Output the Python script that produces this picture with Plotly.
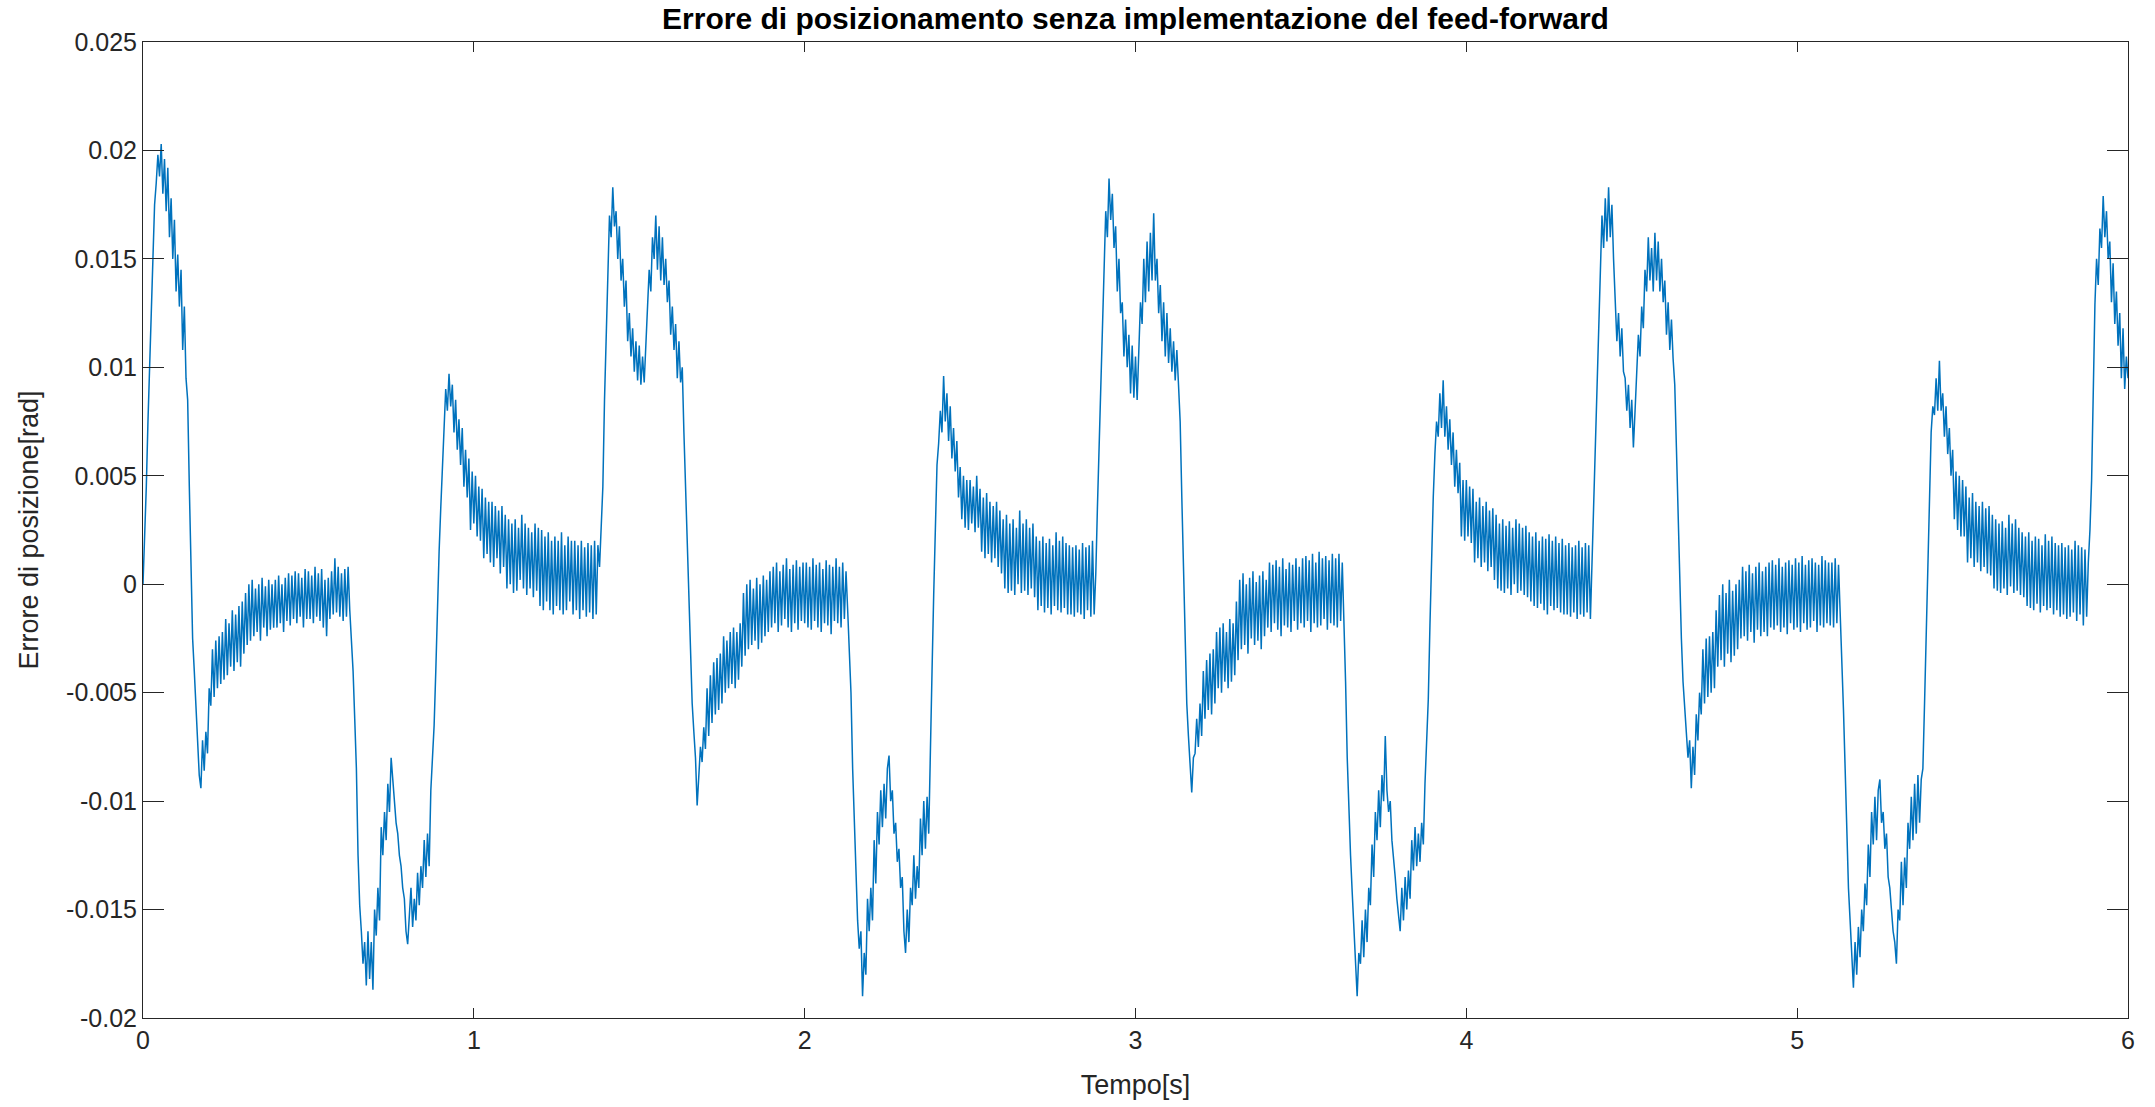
import numpy as np
import plotly.graph_objects as go

# position error, in units of 1e-4 rad
# one row = 0.1 s, sampled every 0.005 s
err_1e4 = [
    0, 20, 45, 75, 105, 125, 150, 175, 185, 198, 188, 203, 180, 196, 172, 192, 160, 178, 150, 168,
    135, 152, 128, 145, 108, 128, 95, 85, 45, 10, -25, -40, -55, -70, -88, -94, -72, -86, -68, -78,
    -48, -56, -30, -52, -26, -48, -24, -46, -22, -44, -16, -42, -18, -38, -12, -40, -14, -36, -10, -38,
    -8, -32, -4, -28, 0, -26, 2, -24, -2, -22, 0, -26, 3, -20, -1, -24, 2, -21, 0, -20,
    2, -20, 4, -18, 0, -22, 3, -17, 5, -19, 4, -16, 6, -18, 5, -15, 3, -20, 7, -16,
    6, -16, 4, -18, 8, -15, 5, -17, 7, -20, 2, -24, 3, -16, 6, -14, 12, -13, 8, -15,
    5, -17, 7, -15, 8, -12, -25, -40, -62, -85, -125, -148, -160, -175, -165, -185, -160, -182, -165, -187,
    -150, -162, -140, -155, -112, -125, -105, -118, -92, -105, -80, -90, -100, -110, -115, -125, -130, -140, -145, -160,
    -166, -150, -140, -158, -145, -155, -133, -148, -130, -140, -118, -135, -115, -130, -95, -80, -65, -40, -10, 15,
    35, 55, 75, 90, 80, 97, 82, 92, 70, 85, 62, 76, 55, 72, 45, 62, 40, 58, 25, 52,
    28, 50, 22, 45, 20, 44, 12, 40, 14, 38, 10, 38, 8, 36, 12, 34, 5, 36, 8, 32,
    -2, 30, 0, 28, -4, 30, -3, 26, 2, 32, -2, 28, -5, 26, -2, 24, -6, 28, -3, 26,
    -10, 25, -12, 22, -8, 24, -12, 20, -14, 22, -10, 20, -12, 24, -14, 18, -12, 22, -8, 20,
    -14, 20, -12, 18, -16, 20, -12, 17, -15, 19, -13, 18, -16, 20, -14, 18, 8, 25, 45, 85,
    118, 150, 170, 160, 183, 165, 172, 150, 165, 140, 150, 128, 140, 112, 125, 105, 118, 98, 112, 94,
    110, 92, 105, 93, 110, 130, 145, 135, 160, 150, 170, 145, 165, 140, 160, 138, 150, 130, 140, 115,
    128, 108, 120, 95, 112, 93, 100, 70, 45, 15, -15, -33, -55, -68, -80, -102, -85, -75, -82, -66,
    -76, -48, -70, -42, -64, -36, -60, -34, -58, -32, -55, -24, -50, -26, -48, -22, -46, -20, -48, -22,
    -44, -18, -38, -4, -33, 0, -30, 2, -28, -2, -26, 3, -30, 0, -27, 4, -24, 2, -22, 6,
    -20, 8, -18, 10, -22, 6, -19, 9, -16, 12, -20, 7, -22, 9, -18, 11, -21, 8, -17, 10,
    -18, 10, -20, 8, -21, 12, -17, 9, -20, 10, -22, 7, -18, 11, -19, 9, -23, 8, -17, 12,
    -18, 8, -20, 10, -16, 6, -12, -33, -50, -85, -110, -140, -155, -168, -160, -190, -170, -180, -145, -160,
    -140, -155, -118, -138, -105, -120, -95, -112, -92, -108, -85, -79, -100, -95, -115, -110, -128, -122, -140, -135,
    -160, -170, -150, -165, -140, -148, -125, -145, -130, -140, -108, -125, -100, -122, -98, -115, -70, -40, -5, 28,
    55, 65, 80, 70, 96, 75, 88, 66, 82, 58, 72, 52, 66, 40, 54, 30, 50, 26, 48, 25,
    48, 28, 45, 24, 50, 26, 44, 15, 40, 12, 42, 14, 38, 10, 36, 12, 38, 8, 34, 5,
    30, -2, 32, -4, 28, -3, 30, -5, 26, 0, 34, -4, 28, -3, 30, -5, 26, -2, 28, -6,
    22, -12, 20, -10, 22, -13, 19, -11, 21, -14, 18, -10, 24, -12, 20, -13, 22, -11, 19, -14,
    18, -14, 17, -15, 18, -13, 16, -14, 19, -16, 17, -12, 18, -15, 20, -14, 5, 36, 65, 95,
    120, 150, 172, 160, 187, 168, 180, 155, 165, 135, 150, 125, 130, 105, 122, 100, 115, 88, 110, 86,
    105, 85, 112, 130, 120, 150, 130, 158, 135, 162, 140, 171, 140, 150, 125, 138, 112, 130, 105, 125,
    102, 118, 98, 112, 94, 108, 92, 75, 40, 5, -28, -55, -70, -85, -96, -80, -78, -62, -75, -55,
    -70, -40, -62, -35, -58, -32, -60, -30, -55, -22, -48, -20, -50, -18, -45, -22, -48, -16, -45, -18,
    -42, -8, -35, 2, -30, 5, -28, 0, -32, 3, -25, 6, -28, 1, -26, 4, -30, 6, -24, 2,
    -20, 10, -22, 9, -18, 11, -21, 8, -24, 12, -19, 7, -20, 10, -22, 9, -17, 12, -21, 8,
    -18, 12, -20, 13, -17, 11, -22, 14, -18, 10, -20, 15, -19, 12, -16, 13, -21, 11, -18, 14,
    -19, 12, -20, 14, -17, 10, -15, -45, -80, -105, -125, -142, -160, -175, -190, -170, -175, -155, -172, -150,
    -165, -140, -148, -120, -135, -105, -118, -95, -112, -88, -100, -70, -95, -105, -100, -118, -125, -135, -145, -152,
    -160, -140, -155, -135, -150, -132, -145, -118, -132, -112, -130, -115, -128, -110, -120, -92, -75, -53, -19, 13,
    40, 60, 75, 68, 88, 72, 94, 68, 82, 62, 76, 55, 70, 45, 62, 42, 56, 22, 48, 20,
    48, 22, 45, 19, 44, 10, 38, 12, 40, 8, 36, 10, 38, 6, 34, 8, 35, 2, 32, -2,
    28, -3, 30, -4, 27, -2, 29, -5, 26, 0, 30, -4, 28, -3, 26, -5, 27, -6, 24, -8,
    22, -10, 24, -11, 20, -9, 22, -12, 21, -14, 23, -10, 20, -12, 22, -11, 19, -13, 21, -14,
    18, -14, 19, -15, 17, -13, 18, -16, 20, -14, 17, -15, 19, -13, 18, -16, 12, 35, 62, 90,
    120, 145, 170, 155, 178, 158, 183, 160, 175, 150, 128, 112, 125, 105, 118, 98, 95, 80, 92, 72,
    85, 63, 80, 95, 115, 105, 128, 118, 145, 135, 160, 140, 155, 135, 162, 140, 158, 135, 150, 130,
    140, 115, 130, 108, 122, 104, 92, 63, 30, 0, -25, -45, -58, -68, -80, -72, -94, -75, -88, -60,
    -72, -50, -60, -30, -55, -25, -52, -24, -50, -22, -48, -12, -38, -5, -35, 0, -38, -4, -32, 2,
    -36, -3, -33, 0, -30, 2, -25, 8, -24, 6, -26, 9, -22, 5, -27, 8, -21, 10, -24, 6,
    -22, 8, -24, 10, -20, 11, -21, 9, -19, 12, -22, 8, -20, 10, -23, 11, -18, 9, -21, 12,
    -20, 10, -22, 13, -18, 9, -21, 11, -20, 12, -17, 10, -22, 9, -19, 13, -20, 11, -18, 10,
    -19, 10, -20, 12, -18, 9, -12, -30, -58, -85, -115, -140, -155, -172, -186, -165, -180, -158, -172, -150,
    -160, -138, -148, -120, -135, -105, -120, -98, -118, -95, -90, -110, -105, -122, -115, -135, -140, -150, -160, -165,
    -175, -150, -155, -128, -148, -126, -140, -110, -122, -98, -118, -92, -115, -88, -110, -90, -85, -55, -20, 15,
    45, 70, 82, 78, 95, 80, 103, 80, 88, 68, 82, 60, 72, 50, 62, 30, 52, 25, 50, 22,
    48, 22, 45, 10, 40, 12, 42, 8, 38, 10, 36, 6, 38, 8, 35, 5, 36, 4, 32, -2,
    30, -3, 28, -4, 29, -2, 26, -5, 32, -1, 28, -4, 30, -3, 26, -5, 24, -6, 22, -10,
    24, -11, 20, -12, 22, -9, 21, -13, 18, -10, 23, -12, 20, -11, 22, -14, 19, -12, 18, -15,
    19, -14, 17, -16, 18, -15, 16, -13, 20, -17, 18, -14, 17, -19, 16, -15, 10, 25, 48, 88,
    129, 150, 138, 164, 155, 179, 160, 172, 150, 158, 130, 148, 120, 135, 110, 125, 95, 118, 90, 105,
    95,
]
err = [v * 1e-4 for v in err_1e4]
t = np.round(np.arange(len(err)) * 0.005, 3)

x_tick_vals = [0, 1, 2, 3, 4, 5, 6]
x_tick_text = ["0", "1", "2", "3", "4", "5", "6"]
y_tick_vals = [-0.02, -0.015, -0.01, -0.005, 0, 0.005, 0.01, 0.015, 0.02, 0.025]
y_tick_text = ["-0.02", "-0.015", "-0.01", "-0.005", "0", "0.005", "0.01", "0.015", "0.02", "0.025"]

AX = "#262626"
FONT = "Liberation Sans, Arial, Helvetica, sans-serif"

fig = go.Figure()
fig.add_trace(go.Scatter(x=t, y=err, mode="lines",
                         line=dict(color="#0072BD", width=1.5), showlegend=False))

fig.update_layout(
    width=2155, height=1107, autosize=False,
    margin=dict(l=143, r=27, t=42, b=89),
    paper_bgcolor="white", plot_bgcolor="white",
    font=dict(family=FONT, size=25, color=AX),
    title=dict(text="<b>Errore di posizionamento senza implementazione del feed-forward</b>",
               x=0.5, xref="paper", xanchor="center", y=0.983, yanchor="middle",
               font=dict(family=FONT, size=30, color="#000000")),
)
fig.update_xaxes(range=[0, 6], tickvals=x_tick_vals, ticktext=x_tick_text,
                 showline=True, linecolor=AX, linewidth=1, mirror="ticks",
                 ticks="inside", ticklen=10, tickcolor=AX, tickwidth=1,
                 showgrid=False, zeroline=False,
                 title=dict(text="Tempo[s]", font=dict(size=27, color=AX), standoff=22),
                 tickfont=dict(size=25, color=AX))
fig.update_yaxes(range=[-0.02, 0.025], tickvals=y_tick_vals, ticktext=y_tick_text,
                 showline=True, linecolor=AX, linewidth=1, mirror="ticks",
                 ticks="inside", ticklen=21, tickcolor=AX, tickwidth=1,
                 showgrid=False, zeroline=False,
                 title=dict(text="Errore di posizione[rad]", font=dict(size=27, color=AX), standoff=19),
                 tickfont=dict(size=25, color=AX))

fig.write_html("out.html")
